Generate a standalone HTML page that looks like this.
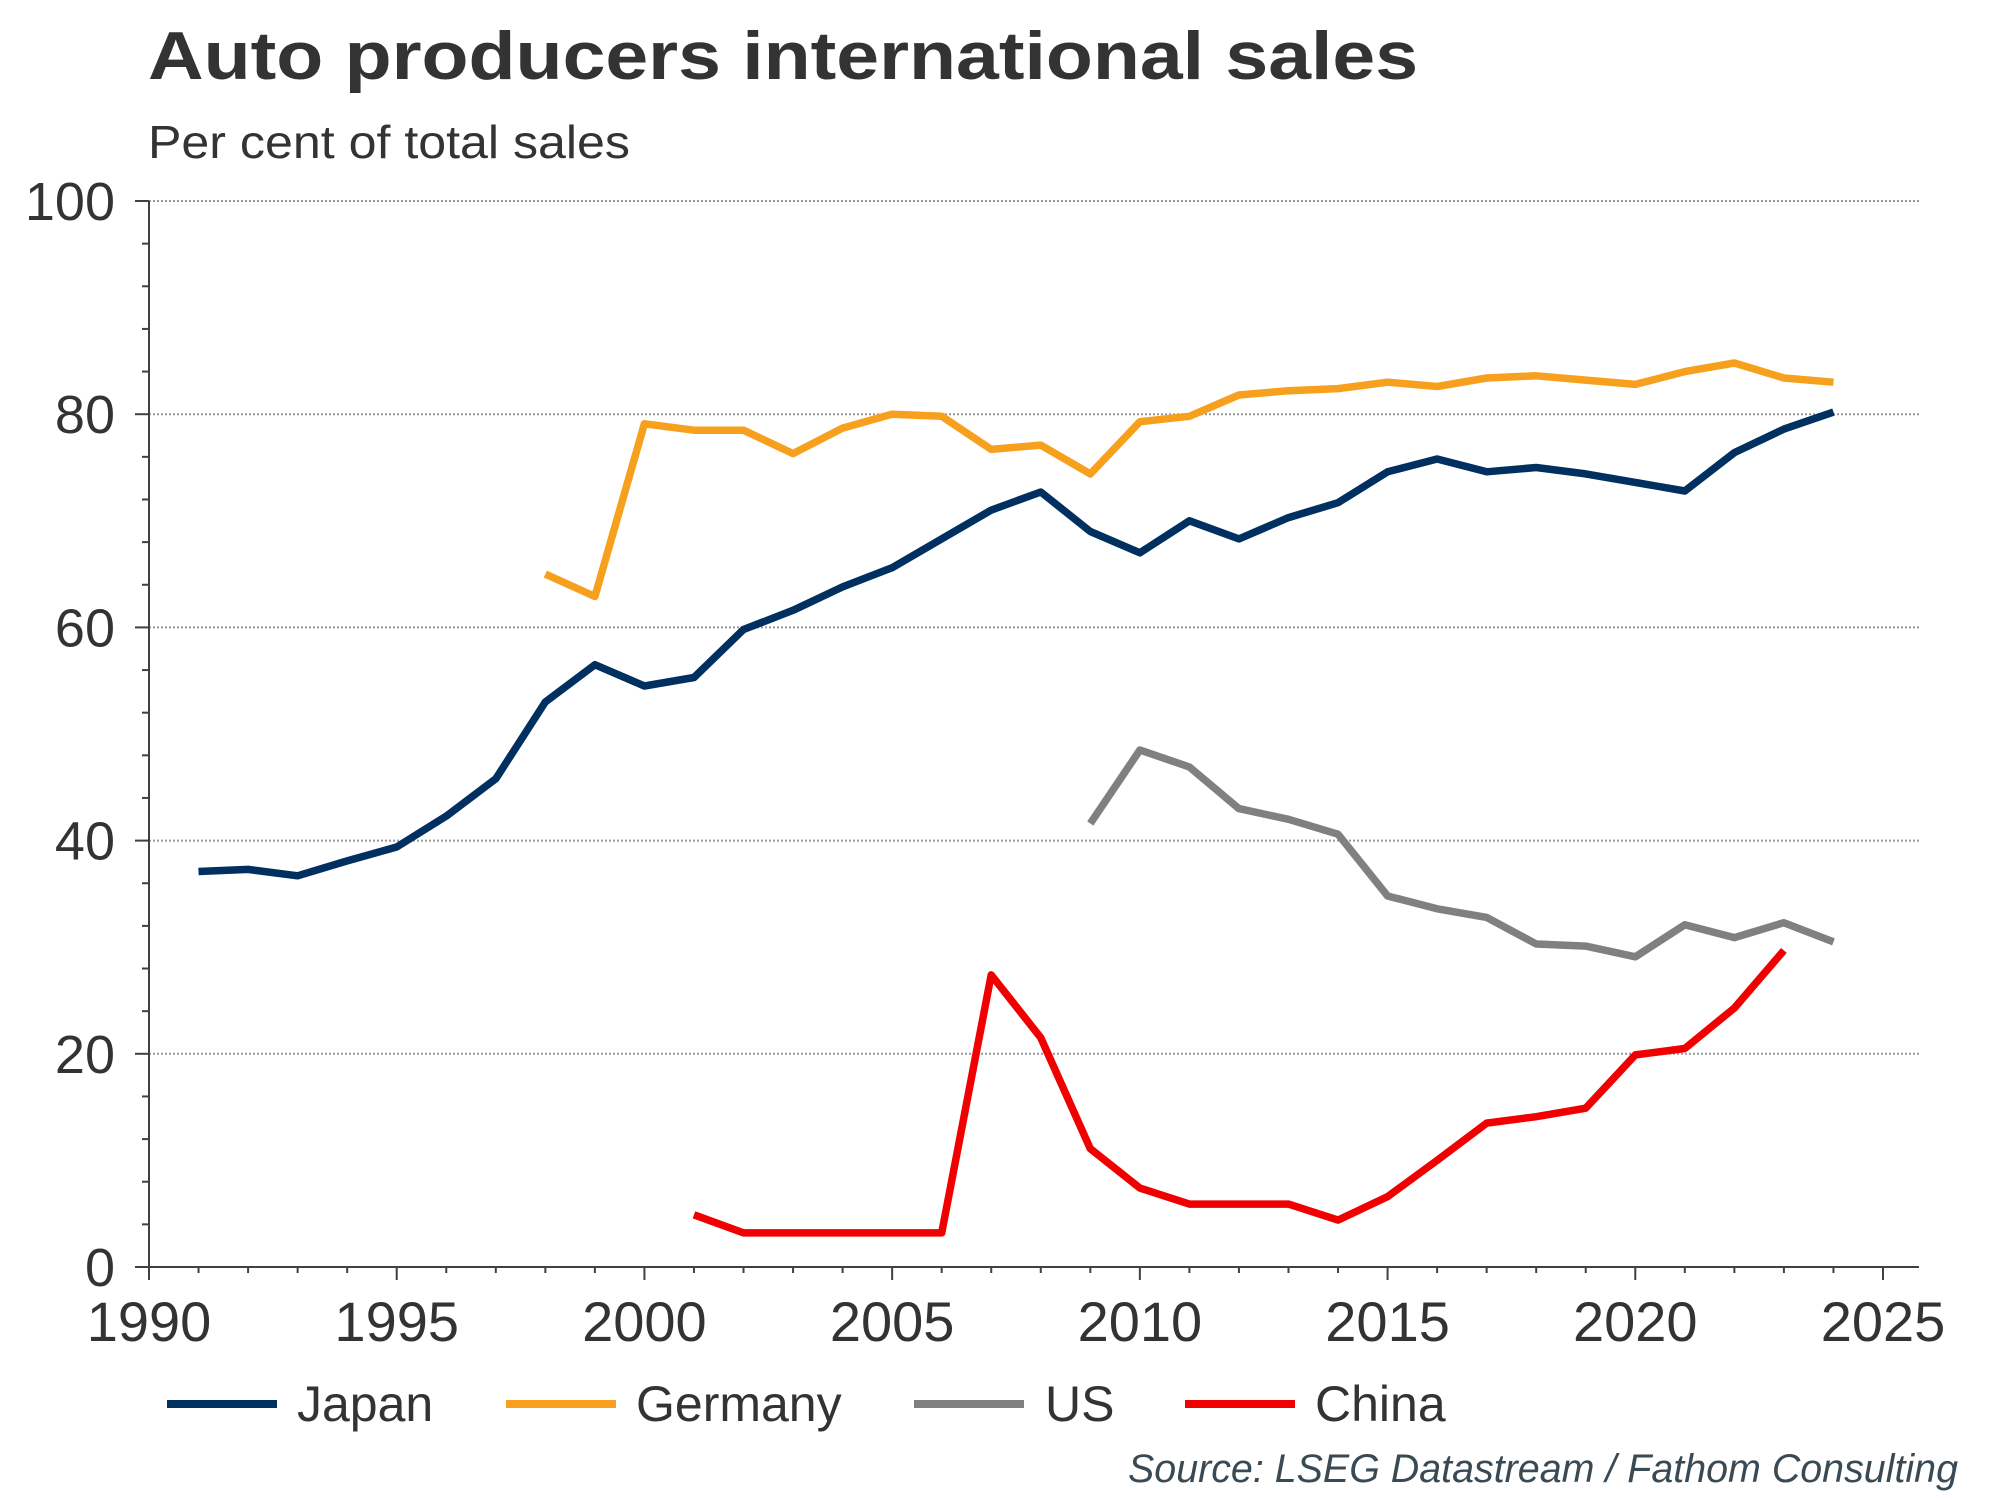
<!DOCTYPE html>
<html><head><meta charset="utf-8"><style>
body{margin:0;background:#fff;}
svg{display:block;font-family:"Liberation Sans",Arial,sans-serif;}
</style></head><body>
<svg id="chart" width="2000" height="1500" viewBox="0 0 2000 1500">
<text x="148" y="79" font-size="68" font-weight="bold" fill="#333" textLength="1270" lengthAdjust="spacingAndGlyphs">Auto producers international sales</text>
<text x="148" y="158" font-size="46" fill="#333" textLength="482" lengthAdjust="spacingAndGlyphs">Per cent of total sales</text>
<g id="grid"></g>
<g id="axes"></g>
<g id="series"></g>
<g font-size="50" fill="#333">
 <g><line x1="167" y1="1404" x2="277" y2="1404" stroke="#003060" stroke-width="8"/><text x="297" y="1421">Japan</text></g>
 <g><line x1="506" y1="1404" x2="616" y2="1404" stroke="#f7a01d" stroke-width="8"/><text x="636" y="1421">Germany</text></g>
 <g><line x1="914" y1="1404" x2="1024" y2="1404" stroke="#808080" stroke-width="8"/><text x="1045" y="1421">US</text></g>
 <g><line x1="1185" y1="1404" x2="1295" y2="1404" stroke="#f00000" stroke-width="8"/><text x="1315" y="1421">China</text></g>
</g>
<text x="1958" y="1482" font-size="40" font-style="italic" fill="#3a4a55" text-anchor="end" textLength="830" lengthAdjust="spacingAndGlyphs">Source: LSEG Datastream / Fathom Consulting</text>
</svg>
<script>
const japanYears=[1991,1992,1993,1994,1995,1996,1997,1998,1999,2000,2001,2002,2003,2004,2005,2006,2007,2008,2009,2010,2011,2012,2013,2014,2015,2016,2017,2018,2019,2020,2021,2022,2023,2024];
const japanValues=[37.1,37.3,36.7,38.1,39.4,42.3,45.8,53.0,56.5,54.5,55.3,59.8,61.6,63.8,65.6,68.3,71.0,72.7,69.0,67.0,70.0,68.3,70.3,71.7,74.6,75.8,74.6,75.0,74.4,73.6,72.8,76.4,78.6,80.2];
const germanyYears=[1998,1999,2000,2001,2002,2003,2004,2005,2006,2007,2008,2009,2010,2011,2012,2013,2014,2015,2016,2017,2018,2019,2020,2021,2022,2023,2024];
const germanyValues=[65.0,62.9,79.1,78.5,78.5,76.3,78.7,80.0,79.8,76.7,77.1,74.4,79.3,79.8,81.8,82.2,82.4,83.0,82.6,83.4,83.6,83.2,82.8,84.0,84.8,83.4,83.0];
const usYears=[2009,2010,2011,2012,2013,2014,2015,2016,2017,2018,2019,2020,2021,2022,2023,2024];
const usValues=[41.6,48.5,46.9,43.0,42.0,40.6,34.8,33.6,32.8,30.3,30.1,29.1,32.1,30.9,32.3,30.5];
const chinaYears=[2001,2002,2003,2004,2005,2006,2007,2008,2009,2010,2011,2012,2013,2014,2015,2016,2017,2018,2019,2020,2021,2022,2023];
const chinaValues=[4.9,3.2,3.2,3.2,3.2,3.2,27.4,21.5,11.1,7.4,5.9,5.9,5.9,4.4,6.6,10.0,13.5,14.1,14.9,19.9,20.5,24.3,29.7];
const yTicks=[0,20,40,60,80,100];
const xTicks=[1990,1995,2000,2005,2010,2015,2020,2025];

const NS='http://www.w3.org/2000/svg';
const X0=149,X1=1883,Y0=1267,Y1=201;
const xs=yr=>X0+(yr-1990)/35*(X1-X0);
const ys=v=>Y0-v/100*(Y0-Y1);
function mk(tag,attrs,parent){const e=document.createElementNS(NS,tag);for(const k in attrs)e.setAttribute(k,attrs[k]);parent.appendChild(e);return e;}
const grid=document.getElementById('grid'),axes=document.getElementById('axes'),series=document.getElementById('series');
yTicks.forEach(v=>{
  if(v>0){const g=mk('line',{x1:X0,x2:1919,y1:ys(v),y2:ys(v),stroke:'#999','stroke-width':2,'stroke-dasharray':'2 2'},grid);
  
  }
  const t=mk('text',{x:115,y:ys(v)+19,'font-size':54,fill:'#333','text-anchor':'end'},axes);
  t.textContent=v;
  
  
  mk('line',{x1:X0-14,x2:X0,y1:ys(v),y2:ys(v),stroke:'#404040','stroke-width':2},axes);
});
for(let v=4;v<100;v+=4){if(v%20)mk('line',{x1:X0-7,x2:X0,y1:ys(v),y2:ys(v),stroke:'#404040','stroke-width':2},axes);}
for(let yr=1990;yr<=2025;yr++){const maj=yr%5===0;mk('line',{x1:xs(yr),x2:xs(yr),y1:Y0,y2:Y0+(maj?13:6),stroke:'#404040','stroke-width':2},axes);}
xTicks.forEach(yr=>{const t=mk('text',{x:xs(yr),y:1341,'font-size':56,fill:'#333','text-anchor':'middle'},axes);
  t.textContent=yr;
  
  });
const ya=mk('line',{x1:X0,x2:X0,y1:Y1,y2:Y0,stroke:'#404040','stroke-width':2},axes);


const xa=mk('line',{x1:X0-14,x2:1919,y1:Y0,y2:Y0,stroke:'#404040','stroke-width':2},axes);


function draw(yrs,vals,color,name){
  const d=yrs.map((y,i)=>(i?'L':'M')+xs(y).toFixed(1)+' '+ys(vals[i]).toFixed(1)).join(' ');
  const p=mk('path',{d:d,fill:'none',stroke:color,'stroke-width':7.5,'stroke-linejoin':'round'},series);
  
  
}
draw(usYears,usValues,'#808080','us-line');
draw(chinaYears,chinaValues,'#f00000','china-line');
draw(germanyYears,germanyValues,'#f7a01d','germany-line');
draw(japanYears,japanValues,'#003060','japan-line');
</script>
</body></html>
